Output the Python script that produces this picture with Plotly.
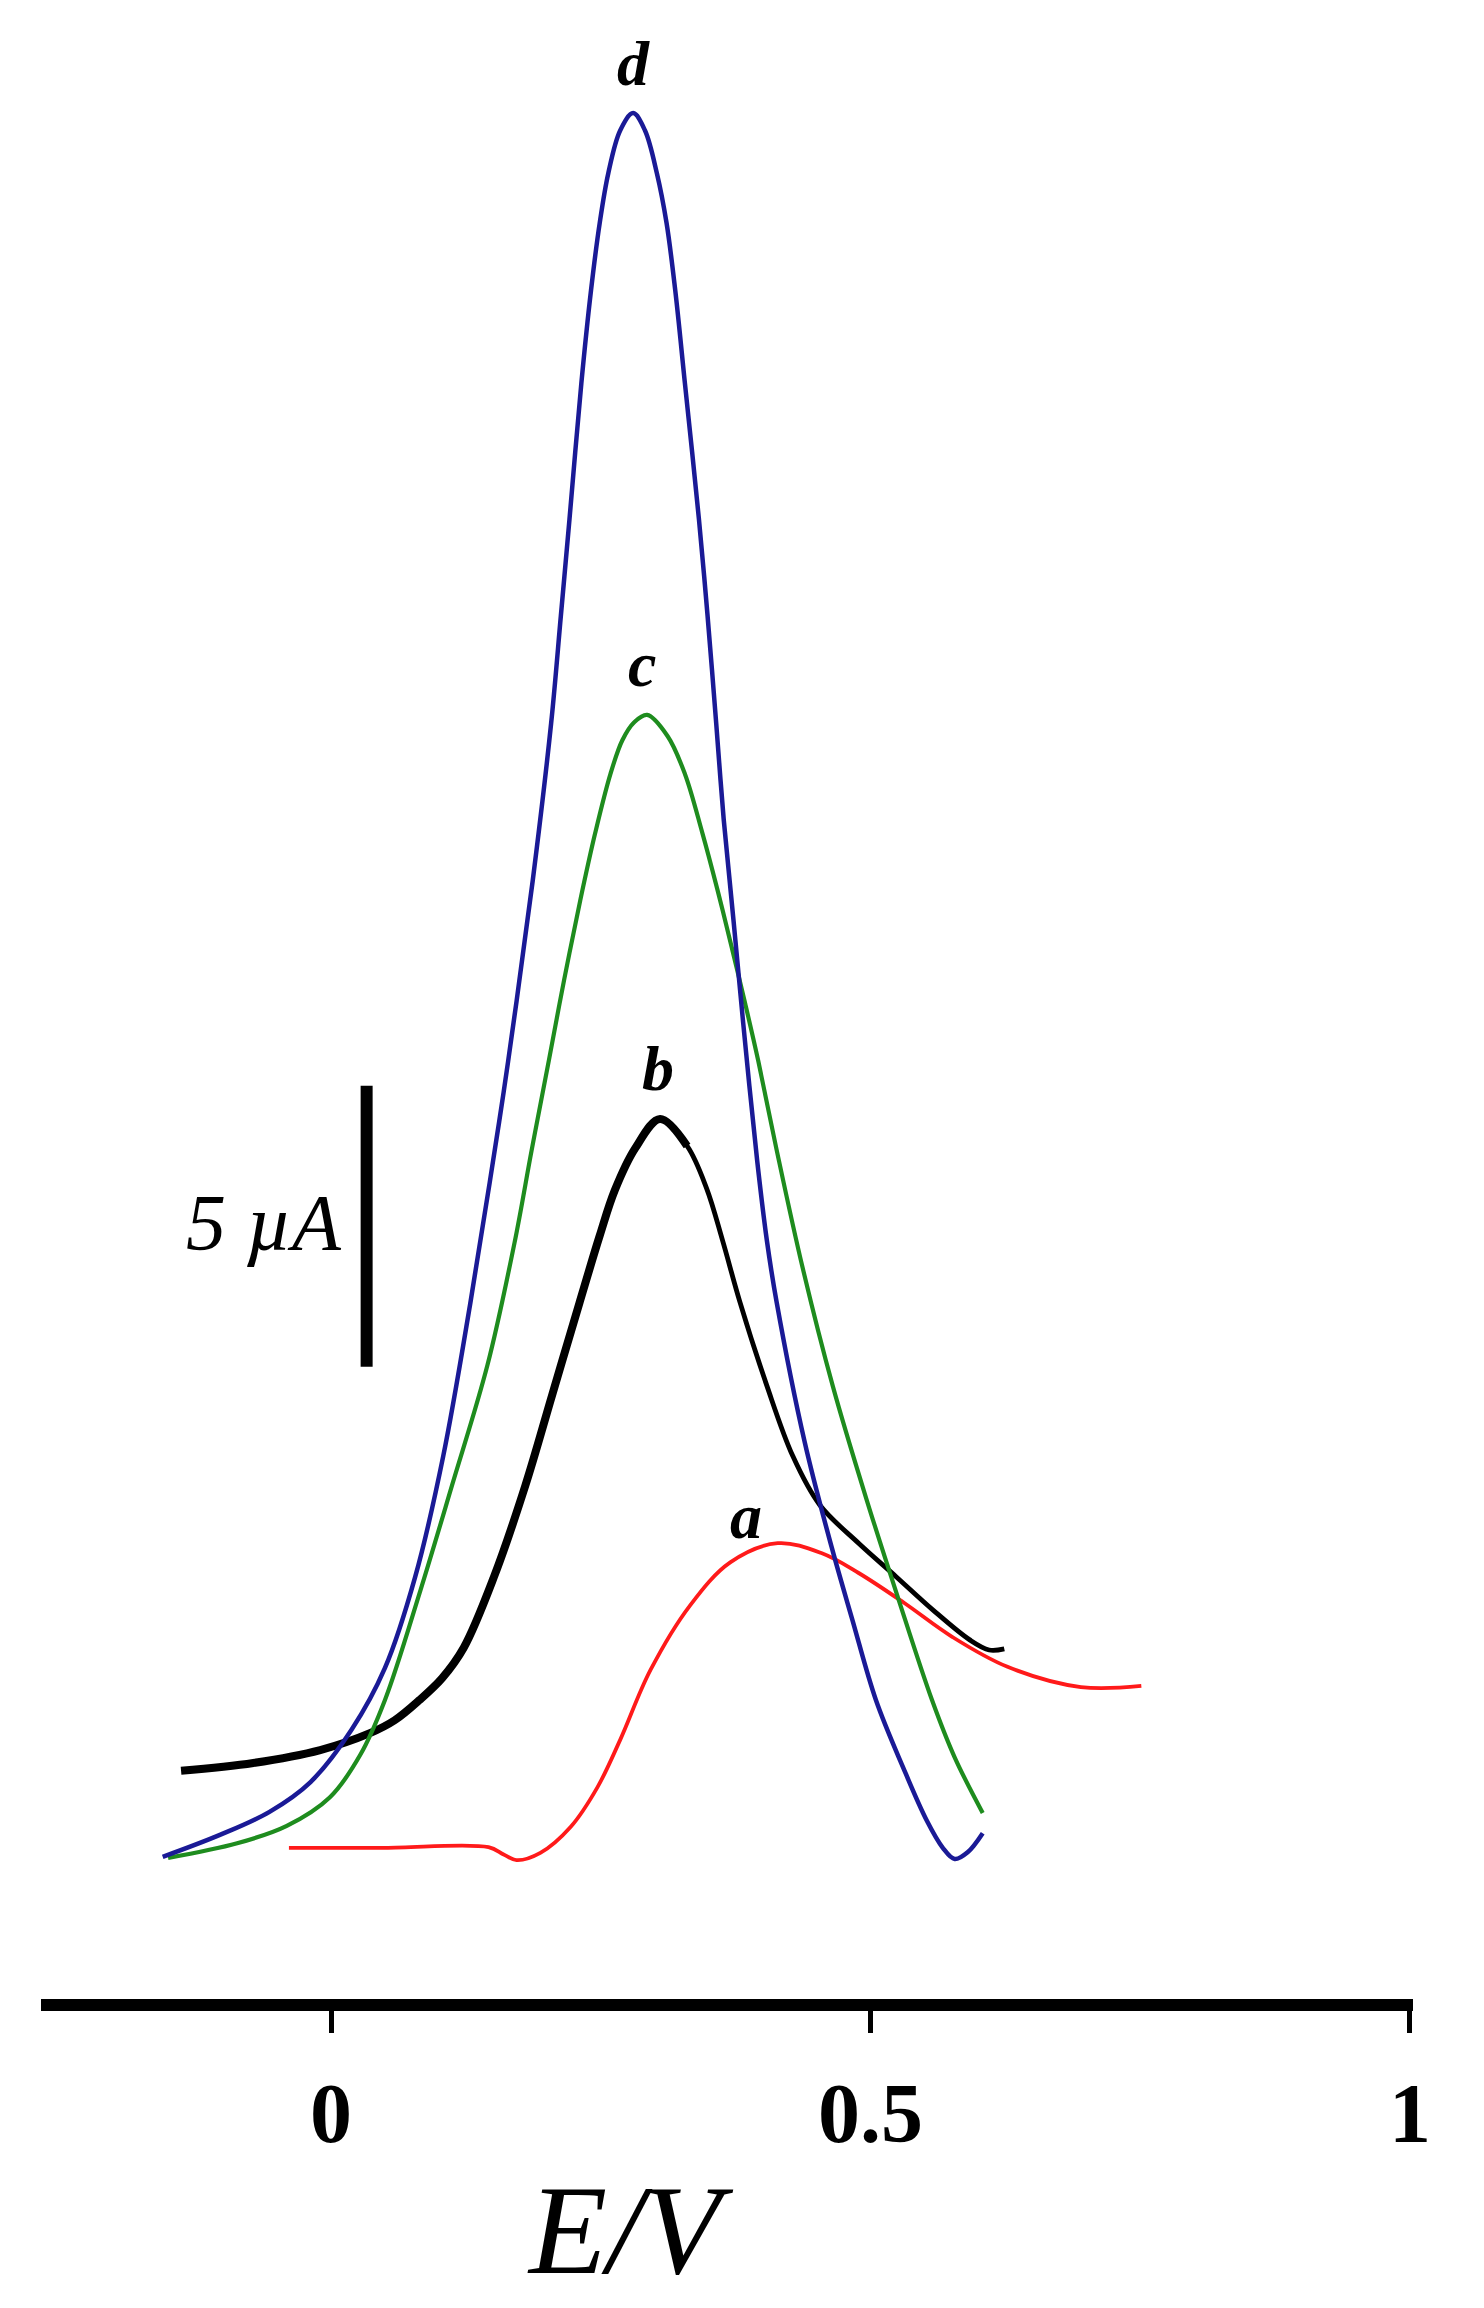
import plotly.graph_objects as go

# potential E (V) and current (uA)
x_a = [-0.039, 0.050, 0.146, 0.160, 0.172, 0.194, 0.222, 0.247, 0.268, 0.296, 0.333, 0.370,
       0.414, 0.455, 0.489, 0.531, 0.576, 0.627, 0.695, 0.751]
y_a = [0.04, 0.04, 0.05, -0.08, -0.18, -0.05, 0.41, 1.12, 1.96, 3.20, 4.36, 5.12,
       5.46, 5.28, 4.93, 4.40, 3.79, 3.26, 2.90, 2.92]

x_b = [-0.139, -0.072, -0.010, 0.036, 0.059, 0.082, 0.103, 0.123, 0.151, 0.180, 0.205, 0.230,
       0.249, 0.263, 0.282, 0.305, 0.330, 0.348, 0.363, 0.379, 0.404, 0.428, 0.453, 0.489,
       0.524, 0.558, 0.592, 0.610, 0.624]
y_b = [1.41, 1.55, 1.78, 2.08, 2.31, 2.67, 3.06, 3.60, 4.86, 6.48, 8.10, 9.72,
       10.93, 11.74, 12.49, 13.01, 12.53, 11.78, 10.84, 9.75, 8.26, 7.01, 6.14, 5.46,
       4.86, 4.27, 3.74, 3.56, 3.58]

x_c = [-0.151, -0.087, -0.041, -0.001, 0.027, 0.050, 0.083, 0.112, 0.145, 0.170, 0.186, 0.202,
       0.216, 0.231, 0.245, 0.259, 0.270, 0.281, 0.293, 0.312, 0.328, 0.344, 0.358, 0.371,
       0.384, 0.396, 0.413, 0.437, 0.465, 0.496, 0.525, 0.557, 0.578, 0.604]
y_c = [-0.14, 0.12, 0.43, 0.94, 1.69, 2.67, 4.63, 6.48, 8.63, 10.80, 12.46, 14.06,
       15.48, 16.90, 18.11, 19.15, 19.75, 20.07, 20.20, 19.82, 19.15, 18.11, 17.10, 16.09,
       15.05, 14.04, 12.46, 10.37, 8.26, 6.26, 4.52, 2.67, 1.65, 0.66]

x_d = [-0.156, -0.103, -0.057, -0.019, 0.019, 0.050, 0.078, 0.104, 0.129, 0.147, 0.160, 0.172,
       0.187, 0.204, 0.213, 0.221, 0.232, 0.241, 0.249, 0.257, 0.268, 0.280, 0.291, 0.302,
       0.311, 0.319, 0.328, 0.341, 0.349, 0.357, 0.364, 0.373, 0.382, 0.395, 0.404, 0.413,
       0.439, 0.464, 0.483, 0.505, 0.530, 0.552, 0.567, 0.578, 0.590, 0.604]
y_d = [-0.12, 0.27, 0.68, 1.21, 2.14, 3.24, 4.86, 7.01, 9.72, 11.87, 13.49, 15.11,
       17.26, 20.05, 21.96, 23.68, 26.10, 27.76, 28.95, 29.84, 30.60, 30.91, 30.60, 29.84,
       28.95, 27.76, 26.10, 23.68, 21.96, 20.05, 18.33, 16.55, 14.72, 12.26, 10.84, 9.75,
       7.26, 5.39, 4.11, 2.67, 1.48, 0.53, 0.04, -0.16, -0.04, 0.30]

# curve labels (letter, E, I)
labels = ["a", "b", "c", "d"]
label_x = [0.385, 0.303, 0.288, 0.280]
label_y = [5.94, 13.9, 21.1, 31.8]

# 5 uA scale bar
bar_x = [0.033, 0.033]
bar_y = [8.6, 13.6]

tick_vals = [0, 0.5, 1]
tick_text = ["0", "0.5", "1"]

serif = "Times New Roman, Liberation Serif, serif"
peak_b = y_b.index(max(y_b))
sm = 1.0

fig = go.Figure()
fig.add_trace(go.Scatter(x=x_a, y=y_a, mode="lines",
                         line=dict(color="#ff1a1a", width=3.8, shape="spline", smoothing=sm)))
# curve b is drawn heavier on its rising side
fig.add_trace(go.Scatter(x=x_b[peak_b - 1:], y=y_b[peak_b - 1:], mode="lines",
                         line=dict(color="black", width=4.8, shape="spline", smoothing=sm)))
fig.add_trace(go.Scatter(x=x_b[:peak_b + 2], y=y_b[:peak_b + 2], mode="lines",
                         line=dict(color="black", width=8, shape="spline", smoothing=sm)))
fig.add_trace(go.Scatter(x=x_c, y=y_c, mode="lines",
                         line=dict(color="#1e8c1e", width=4.2, shape="spline", smoothing=sm)))
fig.add_trace(go.Scatter(x=x_d, y=y_d, mode="lines",
                         line=dict(color="#1a1a96", width=4.5, shape="spline", smoothing=sm)))
fig.add_trace(go.Scatter(x=bar_x, y=bar_y, mode="lines",
                         line=dict(color="black", width=12)))

for t, lx, ly in zip(labels, label_x, label_y):
    fig.add_annotation(x=lx, y=ly, text="<b><i>" + t + "</i></b>", showarrow=False,
                       font=dict(family=serif, size=64, color="black"))

fig.add_annotation(x=0.012, y=11.15, text="<i>5 µA</i>", showarrow=False,
                   xanchor="right", yanchor="middle",
                   font=dict(family=serif, size=80, color="black"))

fig.add_annotation(x=0.278, xref="x", y=-0.116, yref="paper", text="<i>E/V</i>",
                   showarrow=False, xanchor="center", yanchor="middle",
                   font=dict(family=serif, size=128, color="black"))

fig.update_layout(
    width=1484, height=2308,
    margin=dict(l=33, r=79, t=0, b=317),
    paper_bgcolor="white", plot_bgcolor="white",
    showlegend=False,
)
fig.update_xaxes(
    range=[-0.2688, 1.0028],
    showgrid=False, zeroline=False,
    showline=True, linewidth=12, linecolor="black",
    ticks="outside", ticklen=22, tickwidth=5, tickcolor="black",
    tickvals=tick_vals, ticktext=tick_text,
    ticklabelstandoff=8,
    tickfont=dict(family=serif, size=84, color="black", weight="bold"),
)
fig.update_yaxes(range=[-2.651, 32.78], visible=False)

fig.write_html("out.html")
